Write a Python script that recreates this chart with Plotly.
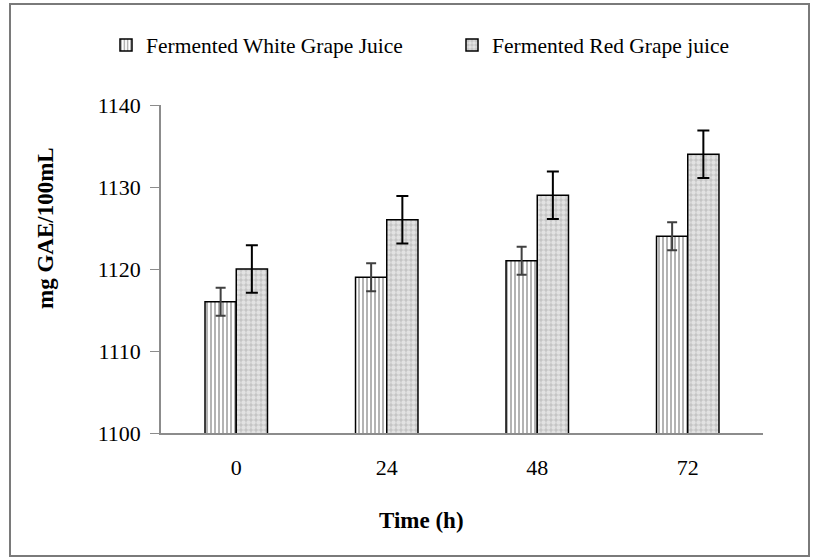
import plotly.graph_objects as go

categories = ["0", "24", "48", "72"]
white_vals = [1116, 1119, 1121, 1124]
white_err = [1.7, 1.7, 1.7, 1.7]
red_vals = [1120, 1126, 1129, 1134]
red_err = [2.9, 2.9, 2.9, 2.9]
y_ticks = [1100, 1110, 1120, 1130, 1140]

FONT = "Liberation Serif, Times New Roman, serif"

fig = go.Figure()
fig.add_trace(go.Bar(
    x=categories, y=white_vals, name="Fermented White Grape Juice",
    marker=dict(color="white", line=dict(color="black", width=1.5),
                pattern=dict(shape="|", fgcolor="#555555", bgcolor="white", size=4, solidity=0.45)),
    error_y=dict(type="data", array=white_err, color="#404040", thickness=2, width=5),
))
fig.add_trace(go.Bar(
    x=categories, y=red_vals, name="Fermented Red Grape juice",
    marker=dict(color="white", line=dict(color="black", width=1.5),
                pattern=dict(shape=".", fgcolor="white", bgcolor="#c4c4c4", size=5, solidity=0.6)),
    error_y=dict(type="data", array=red_err, color="black", thickness=2, width=6),
))

L, R, T, B = 161, 763, 105, 433
W, H = 814, 558
pw, ph = R - L, B - T

def px(x):
    return (x - L) / pw

def py(y):
    return (B - y) / ph

fig.update_layout(
    width=W, height=H,
    margin=dict(l=L, r=W - R, t=T, b=H - B, pad=0, autoexpand=False),
    paper_bgcolor="white", plot_bgcolor="white",
    barmode="group", bargap=0.585, bargroupgap=0,
    font=dict(family=FONT, size=17, color="black"),
    showlegend=True,
    legend=dict(orientation="h", x=px(106), xanchor="left", y=py(45), yanchor="middle",
                font=dict(family=FONT, size=21.5, color="black"),
                entrywidth=301, entrywidthmode="pixels", bgcolor="rgba(0,0,0,0)"),
    xaxis=dict(showline=True, linecolor="#8c8c8c", linewidth=1.5, ticks="", showgrid=False,
               automargin=False, tickfont=dict(family=FONT, size=22), ticklabelstandoff=14),
    yaxis=dict(range=[1100, 1140], tickvals=y_ticks, showline=True, linecolor="#8c8c8c",
               linewidth=1.5, ticks="outside", ticklen=9, tickcolor="#8c8c8c", showgrid=False,
               automargin=False, zeroline=False, tickfont=dict(family=FONT, size=22),
               ticklabelstandoff=5),
    annotations=[
        dict(text="<b>mg GAE/100mL</b>", textangle=-90, xref="paper", yref="paper",
             x=px(45), y=py(228), showarrow=False, font=dict(family=FONT, size=23),
             xanchor="center", yanchor="middle"),
        dict(text="<b>Time (h)</b>", xref="paper", yref="paper",
             x=px(421), y=py(520), showarrow=False, font=dict(family=FONT, size=23),
             xanchor="center", yanchor="middle"),
    ],
    shapes=[dict(type="rect", xref="paper", yref="paper",
                 x0=px(10), x1=px(809), y0=py(556), y1=py(4),
                 line=dict(color="#7a7a7a", width=2), fillcolor="rgba(0,0,0,0)", layer="below")],
)

fig.write_html("out.html", config={"displayModeBar": False},
               post_script="document.body.style.margin='0';document.body.style.overflow='hidden';")
